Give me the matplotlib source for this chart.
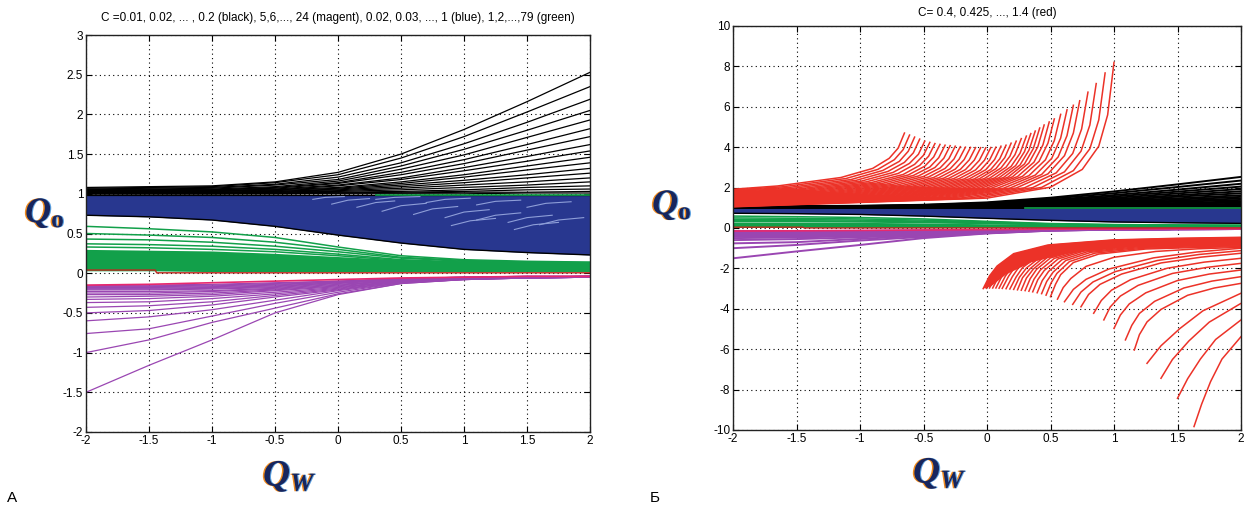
import matplotlib
matplotlib.use("Agg")
import matplotlib.pyplot as plt
import matplotlib.patheffects as pe
from matplotlib import font_manager

names = {f.name for f in font_manager.fontManager.ttflist}
NARROW = "Liberation Sans Narrow" if "Liberation Sans Narrow" in names else "Liberation Sans"
plt.rcParams["font.family"] = [NARROW, "DejaVu Sans"]
plt.rcParams["axes.unicode_minus"] = False
plt.rcParams["mathtext.fontset"] = "custom"
plt.rcParams["mathtext.it"] = "Liberation Serif:italic:bold"
plt.rcParams["mathtext.rm"] = "Liberation Serif:bold"

# common Q_w grid for the small-C families
QW = [-2.0, -1.5, -1.0, -0.5, 0.0, 0.5, 1.0, 1.5, 2.0]

# C = 0.01 ... 0.2 (black)
BLACK = [
    [1.08, 1.09, 1.10, 1.15, 1.27, 1.50, 1.81, 2.16, 2.53],
    [1.07, 1.08, 1.09, 1.14, 1.24, 1.45, 1.72, 2.03, 2.35],
    [1.06, 1.07, 1.08, 1.12, 1.21, 1.39, 1.63, 1.90, 2.19],
    [1.05, 1.06, 1.07, 1.11, 1.18, 1.35, 1.56, 1.80, 2.05],
    [1.05, 1.05, 1.06, 1.09, 1.16, 1.31, 1.49, 1.71, 1.93],
    [1.04, 1.05, 1.05, 1.08, 1.14, 1.27, 1.43, 1.62, 1.82],
    [1.04, 1.04, 1.05, 1.07, 1.13, 1.24, 1.38, 1.55, 1.72],
    [1.03, 1.04, 1.04, 1.06, 1.11, 1.20, 1.33, 1.47, 1.62],
    [1.03, 1.03, 1.04, 1.05, 1.10, 1.18, 1.29, 1.41, 1.54],
    [1.02, 1.03, 1.03, 1.05, 1.08, 1.15, 1.24, 1.35, 1.46],
    [1.02, 1.02, 1.03, 1.04, 1.07, 1.13, 1.21, 1.30, 1.39],
    [1.02, 1.02, 1.02, 1.03, 1.06, 1.11, 1.17, 1.24, 1.32],
    [1.01, 1.02, 1.02, 1.03, 1.05, 1.09, 1.14, 1.20, 1.26],
    [1.01, 1.01, 1.01, 1.02, 1.04, 1.07, 1.11, 1.15, 1.20],
    [1.01, 1.01, 1.01, 1.02, 1.03, 1.05, 1.08, 1.11, 1.15],
    [1.01, 1.01, 1.01, 1.01, 1.02, 1.03, 1.05, 1.08, 1.10],
    [1.00, 1.00, 1.00, 1.01, 1.01, 1.02, 1.03, 1.05, 1.06],
    [1.00, 1.00, 1.00, 1.00, 1.01, 1.01, 1.02, 1.02, 1.03],
    [1.00, 1.00, 1.00, 1.00, 1.00, 1.00, 1.00, 1.01, 1.01],
    [0.99, 0.99, 0.99, 0.99, 0.99, 0.99, 0.99, 0.99, 0.99],
]

# C = 5 ... 24 (magenta)
MAGENTA = [
    [-1.50, -1.16, -0.84, -0.50, -0.27, -0.13, -0.08, -0.06, -0.05],
    [-1.00, -0.84, -0.62, -0.44, -0.26, -0.13, -0.08, -0.06, -0.05],
    [-0.76, -0.70, -0.54, -0.38, -0.24, -0.12, -0.08, -0.06, -0.05],
    [-0.60, -0.55, -0.46, -0.34, -0.22, -0.12, -0.08, -0.06, -0.05],
    [-0.50, -0.47, -0.40, -0.30, -0.21, -0.11, -0.07, -0.06, -0.05],
    [-0.43, -0.41, -0.36, -0.28, -0.20, -0.11, -0.07, -0.06, -0.05],
    [-0.37, -0.36, -0.32, -0.26, -0.19, -0.10, -0.07, -0.06, -0.05],
    [-0.33, -0.32, -0.29, -0.24, -0.18, -0.10, -0.07, -0.05, -0.05],
    [-0.30, -0.29, -0.27, -0.22, -0.17, -0.10, -0.07, -0.05, -0.05],
    [-0.27, -0.27, -0.25, -0.21, -0.16, -0.09, -0.07, -0.05, -0.04],
    [-0.25, -0.25, -0.23, -0.20, -0.15, -0.09, -0.06, -0.05, -0.04],
    [-0.23, -0.23, -0.22, -0.19, -0.14, -0.09, -0.06, -0.05, -0.04],
    [-0.21, -0.21, -0.20, -0.18, -0.13, -0.08, -0.06, -0.05, -0.04],
    [-0.20, -0.20, -0.19, -0.17, -0.12, -0.08, -0.06, -0.05, -0.04],
    [-0.19, -0.19, -0.18, -0.16, -0.12, -0.08, -0.06, -0.05, -0.04],
    [-0.18, -0.18, -0.17, -0.15, -0.11, -0.07, -0.06, -0.05, -0.04],
    [-0.17, -0.17, -0.16, -0.14, -0.11, -0.07, -0.05, -0.04, -0.04],
    [-0.16, -0.16, -0.15, -0.13, -0.10, -0.07, -0.05, -0.04, -0.04],
    [-0.155, -0.15, -0.14, -0.12, -0.10, -0.07, -0.05, -0.04, -0.04],
    [-0.15, -0.14, -0.12, -0.10, -0.08, -0.06, -0.05, -0.04, -0.04],
]

# C = 0.02 ... 1 (blue): outer edges of the dense band, plus the pale streaks
BLUE_TOP = [0.98, 0.98, 0.98, 0.98, 0.98, 0.98, 0.98, 0.98, 0.98]
BLUE_BOT = [0.73, 0.71, 0.67, 0.59, 0.48, 0.38, 0.30, 0.26, 0.23]
BLUE_STREAK_X = [
    [-0.20, -0.10, 0.05], [-0.05, 0.08, 0.25], [0.15, 0.30, 0.45],
    [0.35, 0.50, 0.70], [0.60, 0.75, 0.95], [0.85, 1.00, 1.20],
    [1.10, 1.25, 1.45], [1.35, 1.50, 1.70], [1.60, 1.75, 1.95],
    [0.30, 0.45, 0.65], [0.70, 0.85, 1.05], [1.10, 1.25, 1.45],
    [1.50, 1.65, 1.85], [0.90, 1.05, 1.25], [1.40, 1.55, 1.75],
]
BLUE_STREAK_Y = [
    [0.93, 0.955, 0.965], [0.87, 0.92, 0.94], [0.83, 0.89, 0.91],
    [0.78, 0.85, 0.88], [0.74, 0.81, 0.84], [0.70, 0.77, 0.80],
    [0.67, 0.73, 0.76], [0.64, 0.70, 0.73], [0.61, 0.67, 0.70],
    [0.93, 0.955, 0.965], [0.89, 0.93, 0.945], [0.86, 0.905, 0.92],
    [0.83, 0.88, 0.90], [0.60, 0.66, 0.69], [0.55, 0.61, 0.64],
]

# C = 1 ... 79 (green): dense band plus the separated upper curves
GREEN_BAND_TOP = [0.30, 0.29, 0.28, 0.25, 0.21, 0.17, 0.15, 0.15, 0.15]
GREEN_BAND_BOT = [0.03, 0.03, 0.02, 0.02, 0.02, 0.02, 0.02, 0.02, 0.02]
GREEN = [
    [0.59, 0.56, 0.52, 0.45, 0.33, 0.22, 0.17, 0.15, 0.14],
    [0.50, 0.48, 0.45, 0.39, 0.30, 0.20, 0.16, 0.14, 0.13],
    [0.43, 0.42, 0.39, 0.34, 0.27, 0.19, 0.15, 0.13, 0.12],
    [0.37, 0.36, 0.34, 0.30, 0.24, 0.17, 0.14, 0.12, 0.11],
    [0.33, 0.32, 0.30, 0.27, 0.22, 0.16, 0.13, 0.11, 0.10],
]
GREEN_EDGE_X = [0.3, 2.0]
GREEN_EDGE_Y = [0.985, 0.985]
ZERO_X = [-2.0, -1.45, -1.44, 2.0]
ZERO_Y = [0.04, 0.04, 0.005, 0.005]

# C = 0.4 ... 1.4 (red), upper branch: each curve ends at its tip
RED_UP_X = [
    [-2, -1.65, -1.15, -0.90, -0.77, -0.70, -0.65],
    [-2, -1.61, -1.11, -0.86, -0.73, -0.66, -0.61],
    [-2, -1.57, -1.07, -0.82, -0.69, -0.62, -0.57],
    [-2, -1.53, -1.03, -0.78, -0.65, -0.58, -0.53],
    [-2, -1.49, -0.99, -0.74, -0.61, -0.54, -0.49],
    [-2, -1.45, -0.95, -0.70, -0.57, -0.50, -0.45],
    [-2, -1.41, -0.91, -0.66, -0.53, -0.46, -0.41],
    [-2, -1.37, -0.87, -0.62, -0.49, -0.42, -0.37],
    [-2, -1.33, -0.83, -0.58, -0.45, -0.38, -0.33],
    [-2, -1.29, -0.79, -0.54, -0.41, -0.34, -0.29],
    [-2, -1.25, -0.75, -0.50, -0.37, -0.30, -0.25],
    [-2, -1.21, -0.71, -0.46, -0.33, -0.26, -0.21],
    [-2, -1.17, -0.67, -0.42, -0.29, -0.22, -0.17],
    [-2, -1.13, -0.63, -0.38, -0.25, -0.18, -0.13],
    [-2, -1.09, -0.59, -0.34, -0.21, -0.14, -0.09],
    [-2, -1.05, -0.55, -0.30, -0.17, -0.10, -0.05],
    [-2, -1.01, -0.51, -0.26, -0.13, -0.06, -0.01],
    [-2, -0.97, -0.47, -0.22, -0.09, -0.02, 0.03],
    [-2, -0.93, -0.43, -0.18, -0.05, 0.02, 0.07],
    [-2, -0.89, -0.39, -0.14, -0.01, 0.06, 0.11],
    [-2, -0.85, -0.35, -0.10, 0.03, 0.10, 0.15],
    [-2, -0.81, -0.31, -0.06, 0.07, 0.14, 0.19],
    [-2, -0.77, -0.27, -0.02, 0.11, 0.18, 0.23],
    [-2, -0.73, -0.23, 0.02, 0.15, 0.22, 0.27],
    [-2, -0.69, -0.19, 0.06, 0.19, 0.26, 0.31],
    [-2, -0.655, -0.155, 0.095, 0.225, 0.295, 0.345],
    [-2, -0.62, -0.12, 0.13, 0.26, 0.33, 0.38],
    [-2, -0.585, -0.085, 0.165, 0.295, 0.365, 0.415],
    [-2, -0.55, -0.05, 0.20, 0.33, 0.40, 0.45],
    [-2, -0.51, -0.01, 0.24, 0.37, 0.44, 0.49],
    [-2, -0.47, 0.03, 0.28, 0.41, 0.48, 0.53],
    [-2, -0.42, 0.08, 0.33, 0.46, 0.53, 0.58],
    [-2, -0.37, 0.13, 0.38, 0.51, 0.58, 0.63],
    [-2, -0.32, 0.18, 0.43, 0.56, 0.63, 0.68],
    [-2, -0.27, 0.23, 0.48, 0.61, 0.68, 0.73],
    [-2, -0.205, 0.295, 0.545, 0.675, 0.745, 0.795],
    [-2, -0.14, 0.36, 0.61, 0.74, 0.81, 0.86],
    [-2, -0.07, 0.43, 0.68, 0.81, 0.88, 0.93],
    [-2, 0.00, 0.50, 0.75, 0.88, 0.95, 1.00],
]
RED_UP_Y = [
    [1.92, 2.08, 2.50, 2.95, 3.45, 3.95, 4.70],
    [1.885, 2.04, 2.45, 2.90, 3.38, 3.88, 4.60],
    [1.85, 2.00, 2.40, 2.85, 3.30, 3.80, 4.50],
    [1.815, 1.965, 2.36, 2.80, 3.25, 3.72, 4.40],
    [1.78, 1.93, 2.32, 2.75, 3.20, 3.65, 4.30],
    [1.75, 1.905, 2.285, 2.70, 3.15, 3.60, 4.24],
    [1.72, 1.88, 2.25, 2.65, 3.10, 3.55, 4.18],
    [1.69, 1.855, 2.225, 2.625, 3.06, 3.515, 4.14],
    [1.66, 1.83, 2.20, 2.60, 3.02, 3.48, 4.10],
    [1.63, 1.805, 2.175, 2.575, 2.995, 3.455, 4.075],
    [1.60, 1.78, 2.15, 2.55, 2.97, 3.43, 4.05],
    [1.575, 1.76, 2.125, 2.525, 2.95, 3.415, 4.025],
    [1.55, 1.74, 2.10, 2.50, 2.93, 3.40, 4.00],
    [1.525, 1.72, 2.085, 2.485, 2.915, 3.385, 3.99],
    [1.50, 1.70, 2.07, 2.47, 2.90, 3.37, 3.98],
    [1.475, 1.685, 2.055, 2.46, 2.89, 3.36, 3.975],
    [1.45, 1.67, 2.04, 2.45, 2.88, 3.35, 3.97],
    [1.425, 1.655, 2.03, 2.44, 2.875, 3.355, 3.985],
    [1.40, 1.64, 2.02, 2.43, 2.87, 3.36, 4.00],
    [1.375, 1.625, 2.01, 2.43, 2.885, 3.39, 4.05],
    [1.35, 1.61, 2.00, 2.43, 2.90, 3.42, 4.10],
    [1.33, 1.60, 1.995, 2.44, 2.935, 3.485, 4.20],
    [1.31, 1.59, 1.99, 2.45, 2.97, 3.55, 4.30],
    [1.29, 1.58, 1.985, 2.465, 3.01, 3.625, 4.425],
    [1.27, 1.57, 1.98, 2.48, 3.05, 3.70, 4.55],
    [1.25, 1.56, 1.975, 2.49, 3.085, 3.775, 4.675],
    [1.23, 1.55, 1.97, 2.50, 3.12, 3.85, 4.80],
    [1.21, 1.54, 1.965, 2.515, 3.17, 3.935, 4.95],
    [1.19, 1.53, 1.96, 2.53, 3.22, 4.02, 5.10],
    [1.175, 1.52, 1.96, 2.545, 3.26, 4.11, 5.25],
    [1.16, 1.51, 1.96, 2.56, 3.30, 4.20, 5.40],
    [1.145, 1.505, 1.965, 2.59, 3.375, 4.325, 5.625],
    [1.13, 1.50, 1.97, 2.62, 3.45, 4.45, 5.85],
    [1.115, 1.495, 1.975, 2.65, 3.515, 4.575, 6.075],
    [1.10, 1.49, 1.98, 2.68, 3.58, 4.70, 6.30],
    [1.085, 1.485, 1.99, 2.73, 3.69, 4.90, 6.725],
    [1.07, 1.48, 2.00, 2.78, 3.80, 5.10, 7.15],
    [1.06, 1.48, 2.01, 2.84, 3.925, 5.35, 7.675],
    [1.05, 1.48, 2.02, 2.90, 4.05, 5.60, 8.20],
]

# red, lower branch: each curve starts at its tip and runs to Q_w = 2
RED_LOW_X = [
    [-0.03, 0.02, 0.08, 0.21, 0.48, 0.99, 1.49, 2.0],
    [-0.005, 0.045, 0.105, 0.235, 0.50, 1.00, 1.50, 2.0],
    [0.02, 0.07, 0.13, 0.26, 0.52, 1.01, 1.51, 2.0],
    [0.045, 0.095, 0.155, 0.28, 0.535, 1.025, 1.515, 2.0],
    [0.07, 0.12, 0.18, 0.30, 0.55, 1.04, 1.52, 2.0],
    [0.095, 0.145, 0.20, 0.325, 0.57, 1.05, 1.525, 2.0],
    [0.12, 0.17, 0.22, 0.35, 0.59, 1.06, 1.53, 2.0],
    [0.15, 0.20, 0.25, 0.375, 0.615, 1.075, 1.54, 2.0],
    [0.18, 0.23, 0.28, 0.40, 0.64, 1.09, 1.55, 2.0],
    [0.21, 0.255, 0.31, 0.425, 0.66, 1.105, 1.555, 2.0],
    [0.24, 0.28, 0.34, 0.45, 0.68, 1.12, 1.56, 2.0],
    [0.27, 0.31, 0.365, 0.475, 0.705, 1.135, 1.57, 2.0],
    [0.30, 0.34, 0.39, 0.50, 0.73, 1.15, 1.58, 2.0],
    [0.33, 0.37, 0.42, 0.53, 0.75, 1.165, 1.585, 2.0],
    [0.36, 0.40, 0.45, 0.56, 0.77, 1.18, 1.59, 2.0],
    [0.395, 0.435, 0.485, 0.59, 0.795, 1.20, 1.60, 2.0],
    [0.43, 0.47, 0.52, 0.62, 0.82, 1.22, 1.61, 2.0],
    [0.465, 0.505, 0.55, 0.65, 0.85, 1.235, 1.62, 2.0],
    [0.50, 0.54, 0.58, 0.68, 0.88, 1.25, 1.63, 2.0],
    [0.555, 0.60, 0.66, 0.78, 1.00, 1.33, 1.66, 2.0],
    [0.61, 0.68, 0.78, 0.96, 1.31, 1.65, 2.0],
    [0.675, 0.74, 0.835, 1.01, 1.34, 1.67, 2.0],
    [0.74, 0.80, 0.89, 1.06, 1.37, 1.69, 2.0],
    [0.84, 0.90, 0.98, 1.13, 1.42, 1.71, 2.0],
    [0.92, 0.97, 1.05, 1.19, 1.46, 1.73, 2.0],
    [1.00, 1.05, 1.12, 1.25, 1.50, 1.75, 2.0],
    [1.09, 1.14, 1.20, 1.32, 1.55, 1.77, 2.0],
    [1.16, 1.20, 1.26, 1.37, 1.58, 1.79, 2.0],
    [1.26, 1.37, 1.52, 1.70, 2.0],
    [1.37, 1.46, 1.59, 1.75, 2.0],
    [1.50, 1.58, 1.68, 1.80, 2.0],
    [1.63, 1.69, 1.76, 1.85, 2.0],
]
RED_LOW_Y = [
    [-3.00, -2.37, -1.88, -1.27, -0.84, -0.59, -0.51, -0.46],
    [-2.985, -2.36, -1.88, -1.28, -0.855, -0.605, -0.53, -0.48],
    [-2.97, -2.35, -1.88, -1.29, -0.87, -0.62, -0.55, -0.50],
    [-2.97, -2.355, -1.89, -1.305, -0.885, -0.64, -0.57, -0.52],
    [-2.97, -2.36, -1.90, -1.32, -0.90, -0.66, -0.59, -0.54],
    [-2.98, -2.375, -1.915, -1.335, -0.92, -0.68, -0.61, -0.56],
    [-2.99, -2.39, -1.93, -1.35, -0.94, -0.70, -0.63, -0.58],
    [-3.005, -2.405, -1.945, -1.37, -0.96, -0.72, -0.65, -0.60],
    [-3.02, -2.42, -1.96, -1.39, -0.98, -0.74, -0.67, -0.62],
    [-3.04, -2.44, -1.985, -1.41, -1.005, -0.765, -0.695, -0.645],
    [-3.06, -2.46, -2.01, -1.43, -1.03, -0.79, -0.72, -0.67],
    [-3.08, -2.485, -2.03, -1.455, -1.055, -0.815, -0.745, -0.695],
    [-3.10, -2.51, -2.05, -1.48, -1.08, -0.84, -0.77, -0.72],
    [-3.13, -2.535, -2.08, -1.505, -1.105, -0.865, -0.795, -0.745],
    [-3.16, -2.56, -2.11, -1.53, -1.13, -0.89, -0.82, -0.77],
    [-3.205, -2.605, -2.15, -1.57, -1.165, -0.925, -0.855, -0.805],
    [-3.25, -2.65, -2.19, -1.61, -1.20, -0.96, -0.89, -0.84],
    [-3.325, -2.715, -2.25, -1.66, -1.245, -1.00, -0.93, -0.88],
    [-3.40, -2.78, -2.31, -1.71, -1.29, -1.04, -0.97, -0.92],
    [-3.52, -2.95, -2.50, -1.90, -1.45, -1.16, -1.03, -0.96],
    [-3.65, -3.04, -2.54, -2.03, -1.48, -1.19, -1.00],
    [-3.78, -3.17, -2.67, -2.16, -1.61, -1.31, -1.12],
    [-3.90, -3.29, -2.79, -2.28, -1.73, -1.44, -1.25],
    [-4.22, -3.59, -3.08, -2.56, -1.99, -1.69, -1.50],
    [-4.55, -3.91, -3.37, -2.84, -2.25, -1.95, -1.75],
    [-4.97, -4.31, -3.76, -3.21, -2.60, -2.28, -2.08],
    [-5.54, -4.82, -4.23, -3.63, -2.97, -2.63, -2.41],
    [-6.04, -5.28, -4.65, -4.03, -3.33, -2.97, -2.74],
    [-6.70, -5.83, -4.97, -4.10, -3.23],
    [-7.44, -6.51, -5.59, -4.66, -3.73],
    [-8.43, -7.46, -6.49, -5.52, -4.55],
    [-9.83, -8.72, -7.61, -6.49, -5.38],
]
# solid core of the lower red fan (outline)
RED_LOW_CORE_X = [-0.03, 0.02, 0.08, 0.21, 0.48, 0.99, 1.49, 2.0,
                  2.0, 1.5, 1.0, 0.6, 0.35, 0.15, 0.03]
RED_LOW_CORE_Y = [-3.00, -2.37, -1.88, -1.27, -0.84, -0.59, -0.51, -0.46,
                  -0.70, -0.82, -0.98, -1.30, -1.70, -2.30, -2.90]

TITLE_A = "C =0.01, 0.02, ... , 0.2 (black), 5,6,..., 24 (magent), 0.02, 0.03, ..., 1 (blue), 1,2,...,79 (green)"
TITLE_B = "C= 0.4, 0.425, ..., 1.4 (red)"

C_BLACK = "#000000"
C_BLUE = "#28378f"
C_STREAK = "#8e9ed8"
C_GREEN = "#12a04a"
C_PURPLE = "#9a46b2"
C_PINK = "#e8286e"
C_RED = "#ec3228"


def draw_small_c(ax, lw, streaks):
    for row in BLACK:
        ax.plot(QW, row, color=C_BLACK, lw=lw)
    for row in MAGENTA[:-1]:
        ax.plot(QW, row, color=C_PURPLE, lw=lw)
    ax.plot(QW, MAGENTA[-1], color=C_PINK, lw=1.2)
    ax.fill_between(QW, BLUE_BOT, BLUE_TOP, color=C_BLUE, lw=0)
    if streaks:
        for xs, ys in zip(BLUE_STREAK_X, BLUE_STREAK_Y):
            ax.plot(xs, ys, color=C_STREAK, lw=0.8)
    ax.plot(QW, BLUE_BOT, color=C_BLACK, lw=1.0)
    ax.fill_between(QW, GREEN_BAND_BOT, GREEN_BAND_TOP, color=C_GREEN, lw=0)
    for row in GREEN:
        ax.plot(QW, row, color=C_GREEN, lw=1.1)
    ax.plot(GREEN_EDGE_X, GREEN_EDGE_Y, color=C_GREEN, lw=1.2)
    ax.plot(ZERO_X, ZERO_Y, color="#c0281e", lw=1.0)


def style_axes(ax, yticks, ylim):
    ax.set_xlim(-2, 2)
    ax.set_ylim(*ylim)
    ax.set_xticks(QW)
    ax.set_xticklabels(["-2", "-1.5", "-1", "-0.5", "0", "0.5", "1", "1.5", "2"])
    ax.set_yticks(yticks)
    ax.set_yticklabels([f"{t:g}" for t in yticks])
    ax.set_axisbelow(True)
    ax.grid(True, color="black", linestyle=(0, (1, 3)), lw=0.8)
    ax.tick_params(direction="in", top=True, right=True, length=4, width=0.8,
                   labelsize=8.5, pad=2)
    for sp in ax.spines.values():
        sp.set_linewidth(1.0)
        sp.set_color("#222222")


FRINGE = [
    pe.SimplePatchShadow(offset=(-1.1, 0), shadow_rgbFace="#f08a1c", alpha=1.0),
    pe.SimplePatchShadow(offset=(0.8, 0), shadow_rgbFace="#5aa0e0", alpha=1.0),
    pe.Normal(),
]


def fringed(fig, x, y, s, size):
    fig.text(x, y, s, fontsize=size, color="#17255e", ha="center", va="center",
             path_effects=FRINGE)


fig = plt.figure(figsize=(12.44, 5.07), dpi=100)
ax1 = fig.add_axes([86 / 1244, 75 / 507, 504 / 1244, 397 / 507])
ax2 = fig.add_axes([733 / 1244, 77 / 507, 508 / 1244, 404 / 507])

draw_small_c(ax1, 0.9, True)
style_axes(ax1, [-2, -1.5, -1, -0.5, 0, 0.5, 1, 1.5, 2, 2.5, 3], (-2, 3))
ax1.set_title(TITLE_A, fontsize=8.5, pad=10)

draw_small_c(ax2, 1.4, False)
ax2.fill(RED_LOW_CORE_X, RED_LOW_CORE_Y, color=C_RED, lw=0)
for xs, ys in zip(RED_UP_X, RED_UP_Y):
    ax2.plot(xs, ys, color=C_RED, lw=1.1)
for xs, ys in zip(RED_LOW_X, RED_LOW_Y):
    ax2.plot(xs, ys, color=C_RED, lw=1.1)
style_axes(ax2, [-10, -8, -6, -4, -2, 0, 2, 4, 6, 8, 10], (-10, 10))
ax2.set_title(TITLE_B, fontsize=8.5, pad=7)

fringed(fig, 45 / 1244, 1 - 213 / 507, r"$Q_{\mathrm{o}}$", 26)
fringed(fig, 672 / 1244, 1 - 205 / 507, r"$Q_{\mathrm{o}}$", 26)
fringed(fig, 290 / 1244, 1 - 476 / 507, r"$Q_{W}$", 27)
fringed(fig, 940 / 1244, 1 - 473 / 507, r"$Q_{W}$", 27)

fig.text(12 / 1244, 1 - 498 / 507, "А", fontsize=11, ha="center", va="center",
         family=["Liberation Sans", "DejaVu Sans"])
fig.text(655 / 1244, 1 - 498 / 507, "Б", fontsize=11, ha="center", va="center",
         family=["Liberation Sans", "DejaVu Sans"])

fig.savefig("out.png", dpi=100)
